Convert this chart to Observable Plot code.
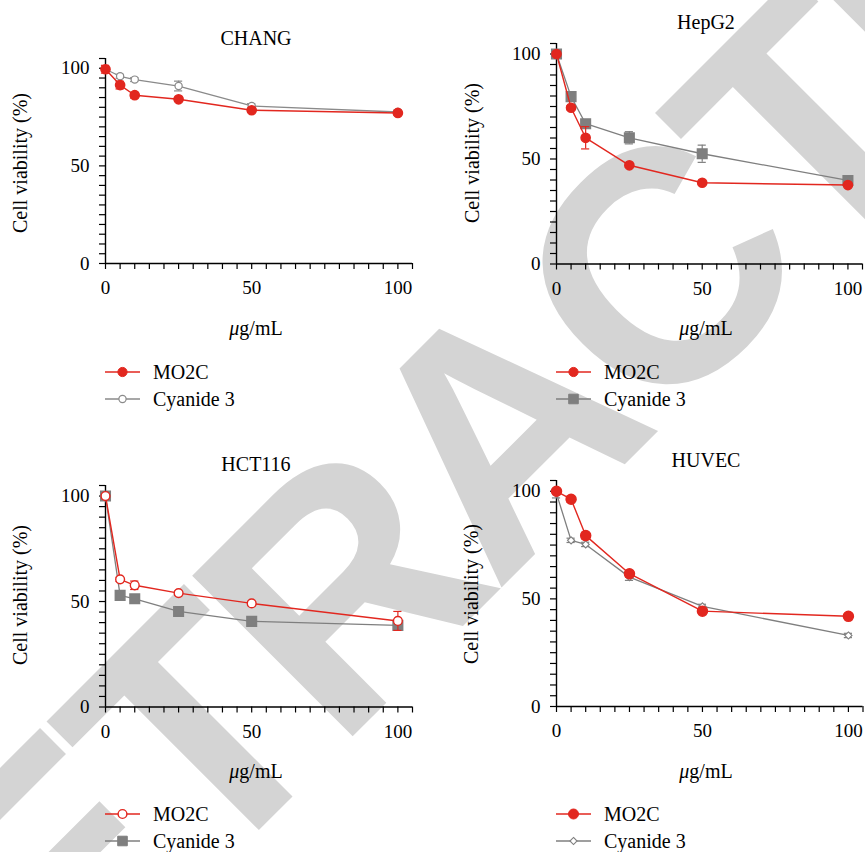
<!DOCTYPE html>
<html><head><meta charset="utf-8">
<script src="https://cdn.jsdelivr.net/npm/d3@7"></script>
<script src="https://cdn.jsdelivr.net/npm/@observablehq/plot@0.6"></script>
<style>
html,body{margin:0;padding:0;background:#fff;}
#root{position:relative;width:865px;height:852px;overflow:hidden;font-family:'Liberation Serif','DejaVu Serif',serif;}
#root > *{position:absolute;}
#root svg text{font-family:'Liberation Serif','DejaVu Serif',serif;}
#root svg text.wm{font-family:'Liberation Sans','DejaVu Sans',sans-serif;}
</style></head><body><div id="root"></div>
<script>
// ---- data ----
const conc = [0, 5, 10, 25, 50, 100];
const seriesNames = ["MO2C", "Cyanide 3"];
const panelTitles = ["CHANG", "HepG2", "HCT116", "HUVEC"];

const changMO2C = [99.5, 91.4, 86.2, 84.1, 78.5, 77.1];
const changMO2CErr = [2, 2, 1.5, 1, 1, 1];
const changCyanide = [99.5, 95.9, 94.2, 90.9, 80.7, 77.6];
const changCyanideErr = [1, 1, 1, 2.5, 1.2, 1];

const hepg2MO2C = [100, 74.4, 60.1, 47.0, 38.7, 37.6];
const hepg2MO2CErr = [1, 1, 5.3, 1, 0.5, 0.5];
const hepg2Cyanide = [100, 79.7, 66.8, 60.1, 52.5, 39.8];
const hepg2CyanideErr = [1, 1, 1, 2.9, 4.1, 1];

const hct116MO2C = [100, 60.5, 57.7, 54.0, 49.1, 40.8];
const hct116MO2CErr = [1, 1, 2, 1, 1, 4.5];
const hct116Cyanide = [100, 52.9, 51.3, 45.3, 40.6, 38.7];
const hct116CyanideErr = [1, 1, 1, 1, 1, 2];

const huvecMO2C = [100, 96.3, 79.4, 61.7, 44.3, 41.9];
const huvecMO2CErr = [1, 1.5, 1.5, 1.5, 1, 1];
const huvecCyanide = [98.9, 77.2, 75.3, 60.1, 46.5, 33.0];
const huvecCyanideErr = [2, 1, 1, 1.5, 1, 1];

const xTicks = d3.range(0, 106, 5);
const yTicks = d3.range(0, 106, 5);
const tickLabels = [0, 50, 100];
const xLabel = "g/mL";
const yLabel = "Cell viability (%)";
const watermark = "RETRACTED";

// ---- styles ----
const RED = "#e2271f";
const GRAY = "#7f7f7f";
const FONT = "'Liberation Serif', 'DejaVu Serif', serif";

const panels = [
  {title: panelTitles[0], mo2c: changMO2C, mo2cErr: changMO2CErr, cy: changCyanide, cyErr: changCyanideErr,
   g: {x0: 105, x1: 412, y0: 263, y1: 58}, titleY: 45, labelY: 335, cx: 256, ylab: {x: 22, y: 163},
   legend: {x: 105, y: 372},
   mo2cStyle: {symbol: "circle", r: 4.6, fill: RED, stroke: RED},
   cyStyle: {symbol: "circle", r: 3.6, fill: "white", stroke: "#8a8a8a", strokeWidth: 1.2}, cyLine: "#8a8a8a"},
  {title: panelTitles[1], mo2c: hepg2MO2C, mo2cErr: hepg2MO2CErr, cy: hepg2Cyanide, cyErr: hepg2CyanideErr,
   g: {x0: 556, x1: 862, y0: 263, y1: 42.5}, titleY: 29, labelY: 335, cx: 706, ylab: {x: 474, y: 153},
   legend: {x: 556, y: 372},
   mo2cStyle: {symbol: "circle", r: 4.6, fill: RED, stroke: RED},
   cyStyle: {symbol: "square", r: 5.4, fill: GRAY, stroke: GRAY}, cyLine: GRAY},
  {title: panelTitles[2], mo2c: hct116MO2C, mo2cErr: hct116MO2CErr, cy: hct116Cyanide, cyErr: hct116CyanideErr,
   g: {x0: 105, x1: 412, y0: 706, y1: 484.5}, titleY: 471, labelY: 778, cx: 256, ylab: {x: 22, y: 595},
   legend: {x: 105, y: 814},
   mo2cStyle: {symbol: "circle", r: 4.4, fill: "white", stroke: RED, strokeWidth: 1.4},
   cyStyle: {symbol: "square", r: 5.4, fill: GRAY, stroke: GRAY}, cyLine: GRAY},
  {title: panelTitles[3], mo2c: huvecMO2C, mo2cErr: huvecMO2CErr, cy: huvecCyanide, cyErr: huvecCyanideErr,
   g: {x0: 556, x1: 862.5, y0: 706, y1: 480}, titleY: 467, labelY: 778, cx: 706, ylab: {x: 473, y: 594},
   legend: {x: 556, y: 814},
   mo2cStyle: {symbol: "circle", r: 5, fill: RED, stroke: RED},
   cyStyle: {symbol: "diamond2", r: 3.2, fill: "white", stroke: GRAY, strokeWidth: 1.1}, cyLine: GRAY}
];

const root = document.getElementById("root");

// watermark layer (behind)
const wm = d3.create("svg").attr("width", 865).attr("height", 852).style("left", "0px").style("top", "0px");
wm.append("text").attr("class", "wm")
  .attr("x", 575).attr("y", 514)
  .attr("transform", "rotate(-45 575 514)")
  .attr("text-anchor", "middle")
  .attr("font-weight", "bold")
  .attr("font-size", 330)
  .attr("letter-spacing", -14)
  .attr("fill", "#d4d4d4")
  .text(watermark);
root.appendChild(wm.node());

function rows(vals, errs) {
  return conc.map((x, i) => ({x, y: vals[i], e: errs[i]}));
}

for (const p of panels) {
  const ml = 70, mr = 10, mt = 8, mb = 40;
  const width = (p.g.x1 - p.g.x0) + ml + mr;
  const height = (p.g.y0 - p.g.y1) + mt + mb;
  const m = rows(p.mo2c, p.mo2cErr);
  const c = rows(p.cy, p.cyErr);
  const capHalf = 1.4;
  const errMarks = (d, color) => [
    Plot.ruleX(d, {x: "x", y1: r => r.y - r.e, y2: r => r.y + r.e, stroke: color, strokeWidth: 1.2}),
    Plot.ruleY(d, {y: r => r.y + r.e, x1: r => r.x - capHalf, x2: r => r.x + capHalf, stroke: color, strokeWidth: 1.2}),
    Plot.ruleY(d, {y: r => r.y - r.e, x1: r => r.x - capHalf, x2: r => r.x + capHalf, stroke: color, strokeWidth: 1.2})
  ];
  const chart = Plot.plot({
    width, height,
    marginLeft: ml, marginRight: mr, marginTop: mt, marginBottom: mb,
    x: {domain: [0, 105], axis: null},
    y: {domain: [0, 105], axis: null},
    style: {fontFamily: FONT, fontSize: "19px", color: "black", background: "transparent", overflow: "visible"},
    marks: [
      Plot.axisX(xTicks, {tickSize: 6, tickPadding: 11, strokeWidth: 1.2, tickFormat: d => tickLabels.includes(d) ? String(d) : "", label: null, fill: "black"}),
      Plot.axisY(yTicks, {tickSize: 6, tickPadding: 10, strokeWidth: 1.2, tickFormat: d => tickLabels.includes(d) ? String(d) : "", label: null, fill: "black"}),
      Plot.ruleY([0], {stroke: "black", strokeWidth: 1.4}),
      Plot.ruleX([0], {stroke: "black", strokeWidth: 1.4}),
      ...errMarks(c, p.cyLine),
      Plot.line(c, {x: "x", y: "y", stroke: p.cyLine, strokeWidth: 1.3}),
      Plot.dot(c, {x: "x", y: "y", ...p.cyStyle}),
      ...errMarks(m, RED),
      Plot.line(m, {x: "x", y: "y", stroke: RED, strokeWidth: 1.4}),
      Plot.dot(m, {x: "x", y: "y", ...p.mo2cStyle})
    ]
  });
  chart.style.left = (p.g.x0 - ml) + "px";
  chart.style.top = (p.g.y1 - mt) + "px";
  root.appendChild(chart);
}

// text & legend overlay
const ov = d3.create("svg").attr("width", 865).attr("height", 852).style("left", "0px").style("top", "0px")
  .attr("fill", "black");
const symbolPath = (name, r) => {
  const t = {circle: d3.symbolCircle, square: d3.symbolSquare, diamond2: d3.symbolDiamond2}[name];
  return d3.symbol(t, Math.PI * r * r)();
};
for (const p of panels) {
  ov.append("text").attr("x", p.cx).attr("y", p.titleY).attr("text-anchor", "middle").attr("font-size", 20).text(p.title);
  const xl = ov.append("text").attr("x", p.cx).attr("y", p.labelY).attr("text-anchor", "middle").attr("font-size", 20);
  xl.append("tspan").attr("font-style", "italic").text("\u03bc");
  xl.append("tspan").text(xLabel);
  ov.append("text").attr("transform", `translate(${p.ylab.x + 4.6},${p.ylab.y}) rotate(-90)`)
    .attr("text-anchor", "middle").attr("font-size", 20).text(yLabel);
  const items = [
    {name: seriesNames[0], line: RED, st: p.mo2cStyle, y: p.legend.y},
    {name: seriesNames[1], line: p.cyLine, st: p.cyStyle, y: p.legend.y + 27}
  ];
  for (const it of items) {
    ov.append("line").attr("x1", p.legend.x).attr("x2", p.legend.x + 35).attr("y1", it.y).attr("y2", it.y)
      .attr("stroke", it.line).attr("stroke-width", 1.4);
    ov.append("path").attr("d", symbolPath(it.st.symbol, it.st.r))
      .attr("transform", `translate(${p.legend.x + 17.5},${it.y})`)
      .attr("fill", it.st.fill).attr("stroke", it.st.stroke).attr("stroke-width", it.st.strokeWidth || 1);
    ov.append("text").attr("x", p.legend.x + 48).attr("y", it.y + 6.5).attr("font-size", 20).text(it.name);
  }
}
root.appendChild(ov.node());
</script></body></html>
